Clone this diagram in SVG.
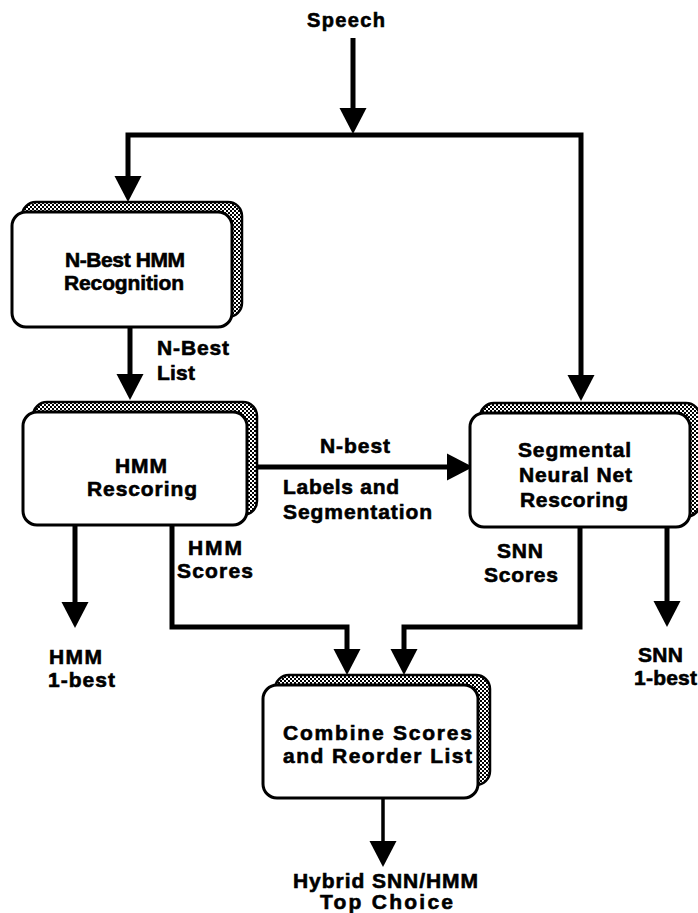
<svg xmlns="http://www.w3.org/2000/svg" width="698" height="913" viewBox="0 0 698 913">
<style>
text{font-family:"Liberation Sans",Arial,sans-serif;font-weight:bold;font-size:21px;fill:#000;stroke:#000;stroke-width:0.6}
.sm{font-size:20px}
.main{fill:#fff;stroke:#000;stroke-width:3}
.shadow{fill:url(#checker);stroke:#000;stroke-width:2.5}
.conn{fill:none;stroke:#000;stroke-width:5;stroke-linejoin:miter;marker-end:url(#arrow)}
.thin{stroke-width:3.5}
</style>
<defs>
<pattern id="checker" width="4" height="4" patternUnits="userSpaceOnUse">
<rect width="4" height="4" fill="#fff"/>
<rect width="2" height="2" fill="#000"/>
<rect x="2" y="2" width="2" height="2" fill="#000"/>
</pattern>
<marker id="arrow" markerUnits="userSpaceOnUse" viewBox="-17 -15 29 30" markerWidth="29" markerHeight="30" refX="0" refY="0" orient="auto" overflow="visible">
<path d="M-16,-13.5 L10,0 L-16,13.5 Z" fill="#000"/>
</marker>
</defs>
<rect width="698" height="913" fill="#fff"/>

<g id="connectors">
<path class="conn" d="M353,38 L353,124"/>
<path class="conn" d="M353,135 L128,135 L128,192"/>
<path class="conn" d="M353,135 L581,135 L581,391"/>
<path class="conn" d="M130,327 L130,390"/>
<path class="conn" d="M257,467 L463,467"/>
<path class="conn" d="M75,525 L75,618"/>
<path class="conn" d="M172,525 L172,627 L347,627 L347,665"/>
<path class="conn" d="M580,527 L580,627 L404,627 L404,665"/>
<path class="conn" d="M667,527 L667,617"/>
<path class="conn thin" d="M383,798 L383,857"/>
</g>

<g id="nbest-hmm-recognition">
<rect class="shadow" x="22" y="202" width="220" height="115" rx="14"/>
<rect class="main" x="12" y="212" width="220" height="115" rx="14"/>
<text x="65" y="267" textLength="120" lengthAdjust="spacing">N-Best HMM</text>
<text x="64" y="290" textLength="120" lengthAdjust="spacing">Recognition</text>
</g>

<g id="hmm-rescoring">
<rect class="shadow" x="33" y="402" width="224" height="113" rx="14"/>
<rect class="main" x="23" y="412" width="224" height="113" rx="14"/>
<text x="115" y="473" textLength="52" lengthAdjust="spacing">HMM</text>
<text x="87" y="496" textLength="110" lengthAdjust="spacing">Rescoring</text>
</g>

<g id="snn-rescoring">
<rect class="shadow" x="480" y="403" width="220" height="114" rx="14"/>
<rect class="main" x="470" y="413" width="220" height="114" rx="14"/>
<text x="518" y="457" textLength="113" lengthAdjust="spacing">Segmental</text>
<text x="519" y="482" textLength="113" lengthAdjust="spacing">Neural Net</text>
<text x="520" y="507" textLength="108" lengthAdjust="spacing">Rescoring</text>
</g>

<g id="combine">
<rect class="shadow" x="275" y="675" width="215" height="110" rx="14"/>
<rect class="main" x="263" y="685" width="215" height="113" rx="14"/>
<text x="283" y="740" textLength="189" lengthAdjust="spacing">Combine Scores</text>
<text x="283" y="763" textLength="189" lengthAdjust="spacing">and Reorder List</text>
</g>

<g id="labels">
<text class="sm" x="307" y="27" textLength="78" lengthAdjust="spacing">Speech</text>
<text x="157" y="355" textLength="72" lengthAdjust="spacing">N-Best</text>
<text x="157" y="380" textLength="38" lengthAdjust="spacing">List</text>
<text x="320" y="453" textLength="70" lengthAdjust="spacing">N-best</text>
<text x="283" y="494" textLength="116" lengthAdjust="spacing">Labels and</text>
<text x="283" y="519" textLength="149" lengthAdjust="spacing">Segmentation</text>
<text x="188" y="555" textLength="54" lengthAdjust="spacing">HMM</text>
<text x="177" y="578" textLength="76" lengthAdjust="spacing">Scores</text>
<text x="497" y="558" textLength="46" lengthAdjust="spacing">SNN</text>
<text x="484" y="582" textLength="74" lengthAdjust="spacing">Scores</text>
<text x="49" y="664" textLength="53" lengthAdjust="spacing">HMM</text>
<text x="48" y="687" textLength="67" lengthAdjust="spacing">1-best</text>
<text x="638" y="662" textLength="45" lengthAdjust="spacing">SNN</text>
<text x="634" y="685" textLength="63" lengthAdjust="spacing">1-best</text>
<text x="293" y="888" textLength="185" lengthAdjust="spacing">Hybrid SNN/HMM</text>
<text x="320" y="909" textLength="133" lengthAdjust="spacing">Top Choice</text>
</g>
</svg>
